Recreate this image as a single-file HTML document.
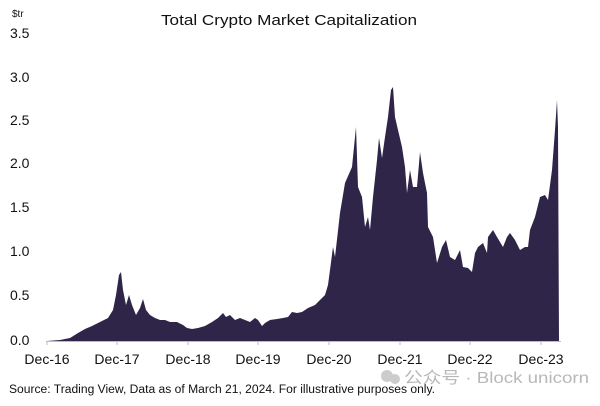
<!DOCTYPE html>
<html><head><style>
body{margin:0;background:#fff;}
svg text{font-family:"Liberation Sans",sans-serif;fill:#111;}
</style></head><body>
<svg width="600" height="401" viewBox="0 0 600 401" xmlns="http://www.w3.org/2000/svg">
<text x="161" y="25" font-size="14.5" textLength="256" lengthAdjust="spacingAndGlyphs">Total Crypto Market Capitalization</text>
<text x="12" y="17" font-size="10">$tr</text>
<g font-size="14">
<text x="10" y="38">3.5</text>
<text x="10" y="82">3.0</text>
<text x="10" y="125">2.5</text>
<text x="10" y="168">2.0</text>
<text x="10" y="212">1.5</text>
<text x="10" y="256">1.0</text>
<text x="10" y="300">0.5</text>
<text x="10" y="345">0.0</text>
</g>
<polygon fill="#2e2549" points="47,341 60,340 70,338 78,333 85,329 92,326 100,322 108,318 113,310 116,295 119,275 121,272 123,290 126,305 129,295 132,305 136,315 140,308 143,299 146,310 150,315 155,318 160,320 165,320 170,322 177,322 183,325 187,328 192,329 198,328 205,326 212,322 218,318 223,313 226,317 230,315 235,320 240,318 245,320 250,322 255,318 258,320 262,326 265,323 270,320 277,319 283,318 288,317 292,312 297,313 302,312 308,308 315,305 320,300 325,295 328,285 330,270 333,247 335,257 340,213 345,183 352,167 356,127 358,187 362,197 365,227 368,217 370,230 373,197 377,160 379,138 382,158 385,137 388,117 391,90 393,87 395,117 398,130 402,147 405,167 407,193 410,170 413,187 417,187 420,152 423,173 427,193 428,227 433,237 437,263 442,247 446,240 450,257 455,260 460,250 463,267 468,268 472,272 475,253 478,247 483,243 487,253 488,237 493,230 497,237 503,247 507,237 510,233 515,240 520,250 525,247 528,247 530,230 535,217 540,197 545,195 548,200 552,170 555,130 557,100 558,127 559,341"/>
<line x1="46" y1="341.5" x2="561" y2="341.5" stroke="#bbb" stroke-width="1"/>
<g stroke="#bbb">
<line x1="47" y1="341" x2="47" y2="345"/><line x1="117" y1="341" x2="117" y2="345"/><line x1="188" y1="341" x2="188" y2="345"/><line x1="258" y1="341" x2="258" y2="345"/><line x1="329" y1="341" x2="329" y2="345"/><line x1="400" y1="341" x2="400" y2="345"/><line x1="470" y1="341" x2="470" y2="345"/><line x1="541" y1="341" x2="541" y2="345"/>
</g>
<g font-size="14" text-anchor="middle">
<text x="47" y="364">Dec-16</text><text x="117" y="364">Dec-17</text><text x="188" y="364">Dec-18</text><text x="258" y="364">Dec-19</text><text x="329" y="364">Dec-20</text><text x="400" y="364">Dec-21</text><text x="470" y="364">Dec-22</text><text x="541" y="364">Dec-23</text>
</g>
<text x="9" y="393" font-size="11.5" textLength="426" lengthAdjust="spacingAndGlyphs">Source: Trading View, Data as of March 21, 2024. For illustrative purposes only.</text>
<circle cx="387" cy="376" r="6" fill="#ccc"/><circle cx="395" cy="379" r="5" fill="#ccc"/>
<text x="404" y="383" font-size="16" textLength="185" lengthAdjust="spacingAndGlyphs" style="fill:#b8b8b8;font-family:'Liberation Sans','Noto Sans CJK SC',sans-serif">公众号 · Block unicorn</text>
</svg>
</body></html>
